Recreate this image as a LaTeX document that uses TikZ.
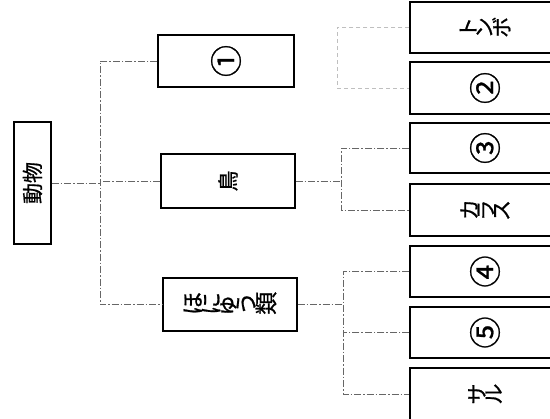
\documentclass[tikz,border=0pt]{standalone}
\usepackage{fontspec}
\usepackage{graphicx}
\newfontfamily\jp[FakeBold=0.8]{Noto Sans CJK JP}
\newcommand\rch[1]{\rotatebox[origin=c]{90}{#1}}
\newcommand\rcn[1]{\rotatebox[origin=c]{90}{\fontsize{32}{32}\selectfont #1}}
\begin{document}
\begin{tikzpicture}[x=1pt,y=-1pt,
  box/.style={draw, line width=1.3pt, inner sep=0pt, font=\jp\fontsize{21}{21}\selectfont},
  lbox/.style={box, minimum width=136, minimum height=53},
  rbox/.style={box, minimum width=150, minimum height=51},
  conn/.style={draw=black!60, line width=0.9pt, dash pattern=on 7pt off 2pt on 1.5pt off 2pt},
  fconn/.style={draw=black!25, line width=0.7pt, dash pattern=on 4pt off 3pt}]
\useasboundingbox (0,0) rectangle (550,419);
\clip (0,0) rectangle (550,419);
\fill[white] (0,0) rectangle (550,419);
% root
\node[box, minimum width=37, minimum height=122] (dob) at (32.5,183) {\rotatebox{90}{動物}};
% middle column
\node[lbox, minimum height=52] (b1) at (226,61) {\rcn{①}};
\node[lbox, minimum width=134, minimum height=54] (tori) at (228,181) {\rch{鳥}};
\node[lbox, minimum width=134, font=\jp\fontsize{23}{23}\selectfont] (hon) at (230,304.5) {\rch{ほ}\rch{に}\rch{ゅ}\rch{う}\rch{類}};
% right column
\node[rbox] (r1) at (485,27.5) {\rch{ト}\rch{ン}\rch{ボ}};
\node[rbox, minimum height=52] (r2) at (485,88) {\rcn{②}};
\node[rbox, minimum height=50] (r3) at (485,148) {\rcn{③}};
\node[rbox, minimum height=52] (r4) at (485,210) {\rch{カ}\rch{ラ}\rch{ス}};
\node[rbox] (r5) at (485,271.5) {\rcn{④}};
\node[rbox] (r6) at (485,332.5) {\rcn{⑤}};
\node[rbox, minimum height=52] (r7) at (485,394) {\rch{サ}\rch{ル}};
% trunk positions
\coordinate (tA) at (100,0);
\coordinate (tB) at (341,0);
\coordinate (tC) at (343,0);
\coordinate (tD) at (337,0);
% connectors: root level
\draw[conn] (dob.east) -- (dob.east -| tA);
\draw[conn] (b1.west) -| (tA |- hon.west) -- (hon.west);
\draw[conn] (tori.west) -- (tori.west -| tA);
% bird group
\draw[conn] (tori.east) -- (tori.east -| tB);
\draw[conn] (r3.west) -| (tB |- r4.west) -- (r4.west);
% mammal group
\draw[conn] (hon.east) -- (hon.east -| tC);
\draw[conn] (r5.west) -| (tC |- r7.west) -- (r7.west);
\draw[conn] (r6.west) -- (r6.west -| tC);
% insect group (faint)
\draw[fconn] (r1.west) -| (tD |- r2.west) -- (r2.west);
\end{tikzpicture}
\end{document}
